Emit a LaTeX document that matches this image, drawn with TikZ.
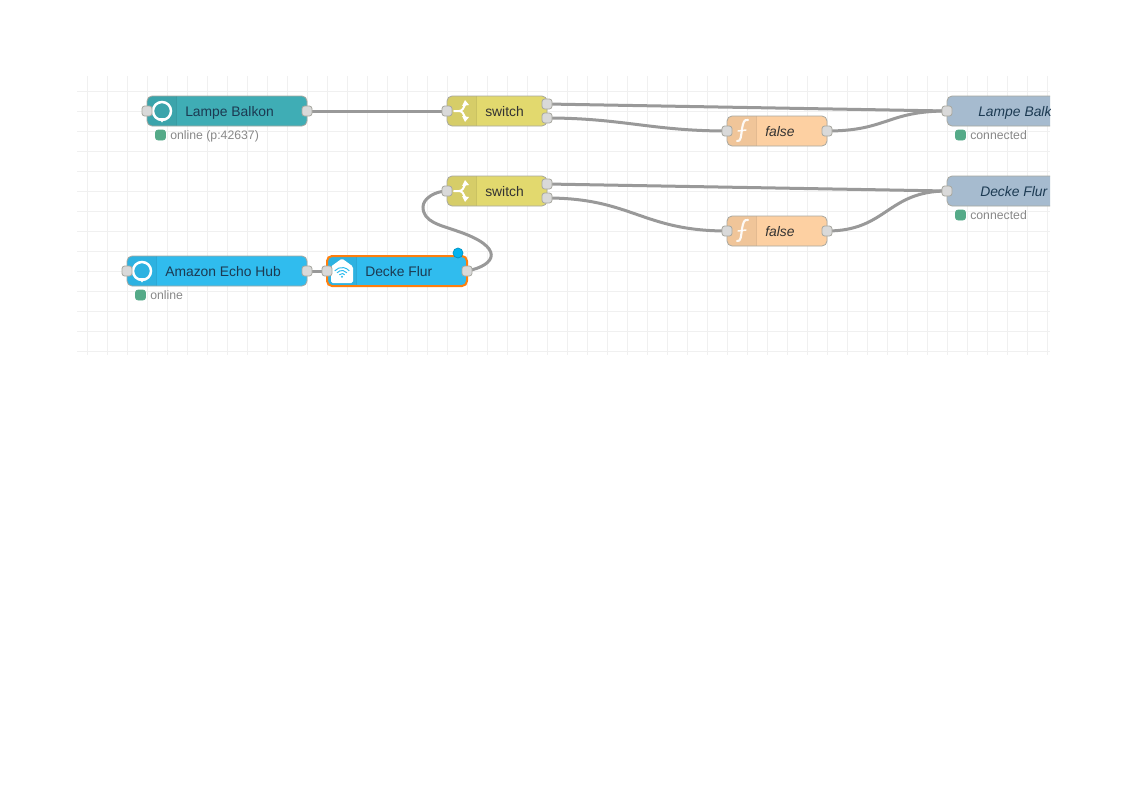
\documentclass[tikz,border=0pt]{standalone}
\usepackage{fontspec}
\setmainfont{Liberation Sans}
\pgfdeclarelayer{gridlayer}
\pgfdeclarelayer{wirelayer}
\pgfsetlayers{gridlayer,wirelayer,main}
\definecolor{gridc}{HTML}{F0F0F0}
\definecolor{wirec}{HTML}{999999}
\definecolor{portf}{HTML}{D9D9D9}
\definecolor{nodeb}{HTML}{A8A8A0}
\definecolor{tealn}{HTML}{3FADB5}
\definecolor{echon}{HTML}{30BCEE}
\definecolor{yellown}{HTML}{E2D96E}
\definecolor{orangen}{HTML}{FDD0A2}
\definecolor{bluen}{HTML}{A6BBCF}
\definecolor{statusg}{HTML}{55AA88}
\definecolor{statust}{HTML}{888888}
\definecolor{selc}{HTML}{FF7F0E}
\definecolor{dotc}{HTML}{00B4F0}
\definecolor{labd}{HTML}{333333}
\definecolor{labn}{HTML}{1C3A52}
\tikzset{
  x=0.75pt,y=-0.75pt,
  flowbox/.style={rounded corners=3.75pt,minimum height=22.5pt,inner sep=0pt,outer sep=0pt,anchor=west},
  port/.style={draw=nodeb,fill=portf,line width=0.6pt,rounded corners=2pt,minimum size=7.5pt,inner sep=0pt,outer sep=0pt},
  wire/.style={draw=wirec,line width=2.25pt},
  gridline/.style={draw=gridc,line width=0.75pt},
  lab/.style={anchor=base west,inner sep=0pt,yshift=-3.75pt,font=\fontsize{10.4}{12}\selectfont},
  stat/.style={anchor=base west,inner sep=0pt,yshift=-3pt,text=statust,font=\fontsize{9.2}{11}\selectfont},
  statdot/.style={fill=statusg,draw=statusg,line width=0.4pt,rounded corners=1.8pt,minimum size=7.5pt,inner sep=0pt},
  iconline/.style={draw=white,line width=1.5pt,line cap=round,line join=round},
}
% plain body: name, left x, mid y, width px, colour, border colour, border pt
\newcommand{\flowplain}[7]{%
  \node[flowbox,fill=#5,minimum width={#4*0.75pt}] (#1) at (#2,#3) {};
  \draw[#6,line width=#7,rounded corners=3.75pt] (#1.north west) rectangle (#1.south east);
}
% body with a darker icon area at the left
\newcommand{\flowbody}[7]{%
  \node[flowbox,fill=#5,minimum width={#4*0.75pt}] (#1) at (#2,#3) {};
  \begin{scope}
    \clip[rounded corners=3.75pt] (#1.north west) rectangle (#1.south east);
    \fill[black,opacity=0.05] (#1.north west) rectangle ([xshift=22pt]#1.south west);
    \draw[black,opacity=0.1,line width=0.75pt] ([xshift=22pt]#1.north west) -- ([xshift=22pt]#1.south west);
  \end{scope}
  \draw[#6,line width=#7,rounded corners=3.75pt] (#1.north west) rectangle (#1.south east);
}
\newcommand{\ringicon}[2]{%
  \draw[white,line width=1.9pt] (#1,#2) circle[radius=9];
  \fill[white] (#1-3,#2+7) -- (#1+3,#2+7) -- (#1,#2+11.5) -- cycle;
}
\newcommand{\switchicon}[2]{%
  \draw[iconline] (#1-8,#2) -- (#1-3,#2) .. controls (#1,#2) and (#1+2,#2-3) .. (#1+3,#2-6);
  \draw[iconline] (#1-3,#2) .. controls (#1,#2) and (#1+2,#2+3) .. (#1+3,#2+6);
  \fill[white] (#1+3,#2-11) -- (#1+7,#2-6) -- (#1,#2-5) -- cycle;
  \fill[white] (#1+3,#2+11) -- (#1+7,#2+6) -- (#1,#2+5) -- cycle;
}
\newcommand{\funcicon}[2]{%
  \draw[iconline,opacity=.9,line width=1.6pt] (#1+6,#2-11) .. controls (#1+2,#2-12) and (#1+1,#2-8) .. (#1,#2-2) .. controls (#1-1,#2+5) and (#1-1,#2+11) .. (#1-5,#2+10);
  \draw[iconline,opacity=.9,line width=1.1pt] (#1-4,#2) -- (#1+4,#2-1);
}
\begin{document}
\begin{tikzpicture}
\useasboundingbox (0,0) rectangle (1122,793);

\begin{pgfonlayer}{gridlayer}
  \fill[white] (0,0) rectangle (1122,793);
  \foreach \gx in {87,107,...,1047} \draw[gridline] (\gx,76) -- (\gx,355);
  \foreach \gy in {91,111,...,351} \draw[gridline] (77,\gy) -- (1050,\gy);
\end{pgfonlayer}

\begin{scope}
\clip (77,76) rectangle (1050,355);

% Lampe Balkon (input)
\flowbody{lb}{147}{111}{160}{tealn}{nodeb}{0.6pt}
\ringicon{162}{111}
\node[lab,text=labn] (lbt) at (185,111) {Lampe Balkon};
\node[port] (lbo) at (307,111) {};
\node[port] (lbi) at (147,111) {};
\node[statdot] (lbsd) at (160.5,135) {};
\node[stat] (lbs) at (170,135) {online (p:42637)};

% switch 1
\flowbody{s1}{447}{111}{100}{yellown}{nodeb}{0.6pt}
\switchicon{462}{111}
\node[lab,text=labd] (s1t) at (485,111) {switch};
\node[port] (s1i) at (447,111) {};
\node[port] (s1a) at (547,104) {};
\node[port] (s1b) at (547,118) {};

% false 1
\flowbody{f1}{727}{131}{100}{orangen}{nodeb}{0.6pt}
\funcicon{742}{131}
\node[lab,text=labd,font=\fontsize{10.4}{12}\selectfont\itshape] (f1t) at (765,131) {false};
\node[port] (f1i) at (727,131) {};
\node[port] (f1o) at (827,131) {};

% mqtt 1
\flowplain{m1}{947}{111}{160}{bluen}{nodeb}{0.6pt}
\node[lab,text=labn,font=\fontsize{10.4}{12}\selectfont\itshape] (m1t) at (978,111) {Lampe Balkon};
\node[port] (m1i) at (947,111) {};
\node[statdot] (m1sd) at (960.5,135) {};
\node[stat] (m1s) at (970,135) {connected};

% switch 2
\flowbody{s2}{447}{191}{100}{yellown}{nodeb}{0.6pt}
\switchicon{462}{191}
\node[lab,text=labd] (s2t) at (485,191) {switch};
\node[port] (s2i) at (447,191) {};
\node[port] (s2a) at (547,184) {};
\node[port] (s2b) at (547,198) {};

% false 2
\flowbody{f2}{727}{231}{100}{orangen}{nodeb}{0.6pt}
\funcicon{742}{231}
\node[lab,text=labd,font=\fontsize{10.4}{12}\selectfont\itshape] (f2t) at (765,231) {false};
\node[port] (f2i) at (727,231) {};
\node[port] (f2o) at (827,231) {};

% mqtt 2
\flowplain{m2}{947}{191}{160}{bluen}{nodeb}{0.6pt}
\node[lab,text=labn,font=\fontsize{10.4}{12}\selectfont\itshape] (m2t) at (980,191) {Decke Flur};
\node[port] (m2i) at (947,191) {};
\node[statdot] (m2sd) at (960.5,215) {};
\node[stat] (m2s) at (970,215) {connected};

% Amazon Echo Hub
\flowbody{eh}{127}{271}{180}{echon}{nodeb}{0.6pt}
\ringicon{142}{271}
\node[lab,text=labn] (eht) at (165,271) {Amazon Echo Hub};
\node[port] (ehi) at (127,271) {};
\node[port] (eho) at (307,271) {};
\node[statdot] (ehsd) at (140.5,295) {};
\node[stat] (ehs) at (150,295) {online};

% Decke Flur (selected)
\flowbody{df}{327}{271}{140}{echon}{selc}{1.5pt}
\fill[white,rounded corners=1.2pt] (342,258.5) -- (353,266.5) -- (353,283) -- (331,283) -- (331,266.5) -- cycle;
\fill[echon] (342,276.8) circle[radius=1.1];
\foreach \wr in {3.5,6.5,9.5}
  \draw[echon,line width=0.75pt] ({342+\wr*cos(140)},{277-\wr*sin(140)}) arc[start angle=140,end angle=40,radius=\wr*0.75pt];
\node[lab,text=labn] (dft) at (365,271) {Decke Flur};
\node[port] (dfi) at (327,271) {};
\node[port] (dfo) at (467,271) {};
\node[circle,fill=dotc,draw=dotc!80!black,line width=0.5pt,minimum size=7.5pt,inner sep=0pt] (dfd) at (458,253) {};
\end{scope}

\begin{pgfonlayer}{wirelayer}
  \draw[wire] (lbo.center) -- (s1i.center);
  \draw[wire] (s1a.center) -- (m1i.center);
  \draw[wire] (s1b.center) .. controls +(75,0) and +(-75,0) .. (f1i.center);
  \draw[wire] (f1o.center) .. controls +(60,0) and +(-60,0) .. (m1i.center);
  \draw[wire] (s2a.center) -- (m2i.center);
  \draw[wire] (s2b.center) .. controls +(85,0) and +(-85,0) .. (f2i.center);
  \draw[wire] (f2o.center) .. controls +(60,0) and +(-60,0) .. (m2i.center);
  \draw[wire] (eho.center) -- (dfi.center);
  \draw[wire] (dfo.center) .. controls +(30,-6) and +(48,16) .. (457,231)
     .. controls (440,225) and (423,222) .. (423,207)
     .. controls (423,198) and (436,191) .. (s2i.center);
\end{pgfonlayer}
\end{tikzpicture}
\end{document}
